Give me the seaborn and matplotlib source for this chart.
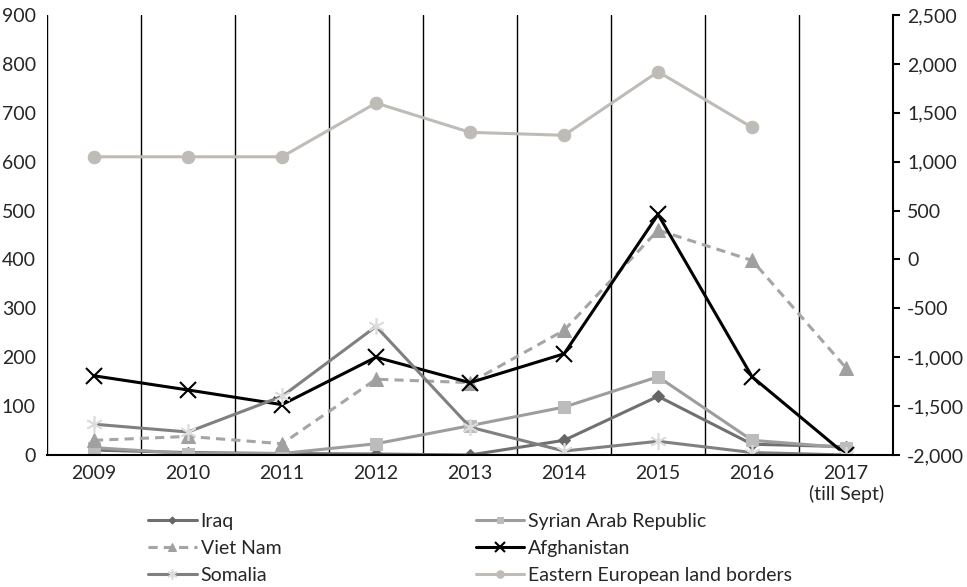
import numpy as np
import matplotlib
matplotlib.use("Agg")
import matplotlib.pyplot as plt
import seaborn as sns

years = ["2009", "2010", "2011", "2012", "2013", "2014", "2015", "2016", "2017\n(till Sept)"]

iraq = [10, 5, 3, 2, 0, 30, 120, 22, 17]
syria = [15, 3, 3, 23, 60, 98, 160, 30, 15]
viet_nam = [30, 38, 23, 155, 148, 255, 460, 398, 178]
afghanistan = [162, 133, 103, 200, 148, 207, 492, 160, 0]
somalia = [63, 47, 120, 263, 57, 8, 28, 5, 0]
eastern_eu = [1050, 1050, 1050, 1600, 1300, 1270, 1920, 1350]  # right axis

sns.set_theme(style="white")
plt.rcParams["font.family"] = ["Lato", "DejaVu Sans"]

fig = plt.figure(figsize=(9.67, 5.87), dpi=100)
ax = fig.add_axes([0.0486, 0.2249, 0.875, 0.7495])
ax2 = ax.twinx()

x = np.arange(len(years))

sns.lineplot(x=x, y=iraq, ax=ax, color="#707070", lw=2.2, marker="D", ms=6,
             markerfacecolor="#666666", markeredgecolor="#666666", label="Iraq")
sns.lineplot(x=x, y=syria, ax=ax, color="#9d9d9d", lw=2.2, marker="s", ms=8,
             markerfacecolor="#bcbcbc", markeredgecolor="#bcbcbc", label="Syrian Arab Republic")
sns.lineplot(x=x, y=viet_nam, ax=ax, color="#a5a5a5", lw=2.2, linestyle=(0, (3, 2)), marker="^", ms=10,
             markerfacecolor="#a0a0a0", markeredgecolor="#a0a0a0", label="Viet Nam")
sns.lineplot(x=x, y=afghanistan, ax=ax, color="black", lw=2.2, marker="x", ms=11, mew=1.5,
             markeredgecolor="black", label="Afghanistan")
sns.lineplot(x=x, y=somalia, ax=ax, color="#808080", lw=2.2, marker=(6, 2, 0), ms=12, mew=1.2,
             markeredgecolor="#dcdcdc", label="Somalia")
sns.lineplot(x=x[:len(eastern_eu)], y=eastern_eu, ax=ax2, color="#bfbbb7", lw=2.2, marker="o", ms=9,
             markerfacecolor="#bfbbb7", markeredgecolor="#bfbbb7", label="Eastern European land borders")

ax.set_xlim(-0.5, len(years) - 0.5)
ax.set_ylim(0, 900)
ax.set_yticks(np.arange(0, 901, 100))
ax2.set_ylim(-2000, 2500)
ax2.set_yticks(np.arange(-2000, 2501, 500))
ax2.set_yticklabels([f"{v:,}" for v in range(-2000, 2501, 500)])

ax.set_xticks(x)
ax.set_xticklabels(years)
ax.set_xticks(np.arange(-0.5, len(years), 1), minor=True)
ax.grid(False)
ax2.grid(False)
ax.grid(True, which="minor", axis="x", color="black", lw=1)
ax.tick_params(axis="x", which="both", length=0, labelsize=14, pad=7)
ax.tick_params(axis="y", length=0, labelsize=14, pad=8)
ax2.tick_params(axis="y", direction="out", length=5, width=1.5, color="black", labelsize=14, pad=5, right=True)

for s in ["top"]:
    ax.spines[s].set_visible(False)
    ax2.spines[s].set_visible(False)
for s in ["left", "right"]:
    ax.spines[s].set_visible(False)
ax2.spines["left"].set_visible(False)
ax2.spines["right"].set_color("black")
ax2.spines["right"].set_linewidth(1.5)
ax2.spines["bottom"].set_visible(False)
ax.spines["bottom"].set_color("black")
ax.spines["bottom"].set_linewidth(1.5)

h1, l1 = ax.get_legend_handles_labels()
h2, l2 = ax2.get_legend_handles_labels()
ax.get_legend().remove()
ax2.get_legend().remove()
hd = dict(zip(l1 + l2, h1 + h2))
order = ["Iraq", "Viet Nam", "Somalia", "Syrian Arab Republic", "Afghanistan", "Eastern European land borders"]
fig.legend([hd[k] for k in order], order, loc="lower left", bbox_to_anchor=(0.135, -0.024), ncol=2,
           frameon=False, fontsize=14, columnspacing=10.0, labelspacing=0.5, handlelength=2.5,
           handletextpad=0.2, markerscale=0.6)

fig.savefig("out.png", dpi=100)
